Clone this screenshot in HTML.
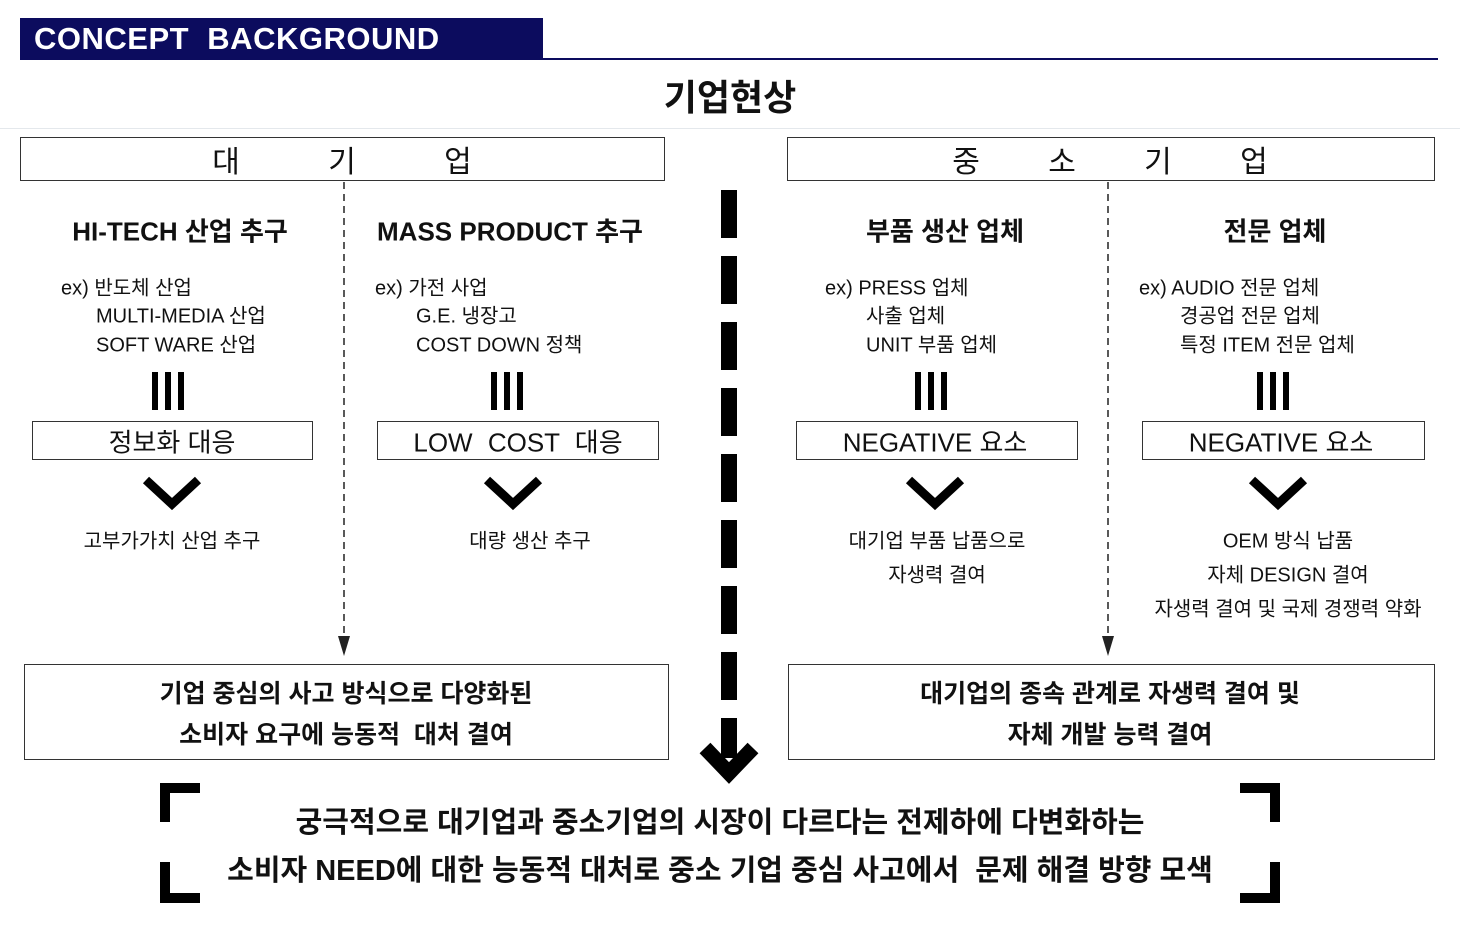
<!DOCTYPE html>
<html><head><meta charset="utf-8"><style>
body{margin:0;width:1460px;height:947px;background:#fff;position:relative;overflow:hidden;font-family:"Liberation Sans","Noto Sans CJK KR",sans-serif;color:#111}
.t{position:absolute;white-space:nowrap;transform:translate(-50%,-50%)}
.l{position:absolute;white-space:nowrap;transform:translateY(-50%);font-size:20px}
.box{position:absolute;border:1.5px solid #333;box-sizing:border-box}
.h{font-size:26px;font-weight:bold}
</style></head><body>
<div style="position:absolute;left:20px;top:18px;width:523px;height:42px;background:#0c0c5e"></div>
<div style="position:absolute;left:34px;top:39px;transform:translateY(-50%);color:#fff;font-weight:bold;font-size:31px;letter-spacing:0.5px">CONCEPT&nbsp; BACKGROUND</div>
<div style="position:absolute;left:543px;top:58px;width:895px;height:2px;background:#0c0c5e"></div>
<div class="t" style="left:730px;top:95px;font-size:36px;font-weight:bold">기업현상</div>
<div style="position:absolute;left:0;top:128px;width:1460px;height:1px;background:#e4e8ec"></div>
<div class="box" style="left:20px;top:137px;width:645px;height:44px"></div>
<div class="box" style="left:787px;top:137px;width:648px;height:44px"></div>
<div class="t" style="left:342px;top:159px;font-size:30px;word-spacing:80px">대 기 업</div>
<div class="t" style="left:1110px;top:159px;font-size:30px;word-spacing:60px">중 소 기 업</div>
<svg width="1460" height="947" style="position:absolute;left:0;top:0">
<g stroke="#222" stroke-width="1.5" stroke-dasharray="7,5">
<line x1="344" y1="182" x2="344" y2="640"/><line x1="1108" y1="182" x2="1108" y2="640"/></g>
<polygon points="338,636 350,636 344,656" fill="#222"/><polygon points="1102,636 1114,636 1108,656" fill="#222"/>
<g fill="#000">
<rect x="721" y="190" width="16" height="48"/><rect x="721" y="256" width="16" height="48"/><rect x="721" y="322" width="16" height="48"/><rect x="721" y="388" width="16" height="48"/><rect x="721" y="454" width="16" height="48"/><rect x="721" y="520" width="16" height="48"/><rect x="721" y="586" width="16" height="48"/><rect x="721" y="652" width="16" height="48"/>
<rect x="721" y="718" width="16" height="40"/>
</g>
<polyline points="705,748 729,773 753,748" fill="none" stroke="#000" stroke-width="15"/>
<g fill="#000">
<rect x="152" y="372" width="6" height="38"/><rect x="165" y="372" width="6" height="38"/><rect x="178" y="372" width="6" height="38"/>
<rect x="491" y="372" width="6" height="38"/><rect x="504" y="372" width="6" height="38"/><rect x="517" y="372" width="6" height="38"/>
<rect x="915" y="372" width="6" height="38"/><rect x="928" y="372" width="6" height="38"/><rect x="941" y="372" width="6" height="38"/>
<rect x="1257" y="372" width="6" height="38"/><rect x="1270" y="372" width="6" height="38"/><rect x="1283" y="372" width="6" height="38"/>
</g>
<g fill="none" stroke="#000" stroke-width="9">
<polyline points="146,480 172,504 198,480"/><polyline points="487,480 513,504 539,480"/><polyline points="909,480 935,504 961,480"/><polyline points="1252,480 1278,504 1304,480"/>
</g>
<g fill="none" stroke="#000" stroke-width="10">
<polyline points="165,822 165,788 200,788"/><polyline points="165,862 165,898 200,898"/>
<polyline points="1240,788 1275,788 1275,822"/><polyline points="1240,898 1275,898 1275,862"/>
</g>
</svg>
<div class="t h" style="left:180px;top:230px">HI-TECH 산업 추구</div>
<div class="t h" style="left:510px;top:230px">MASS PRODUCT 추구</div>
<div class="t h" style="left:945px;top:230px">부품 생산 업체</div>
<div class="t h" style="left:1275px;top:230px">전문 업체</div>
<div class="l" style="left:61px;top:286px">ex) 반도체 산업</div>
<div class="l" style="left:96px;top:314px">MULTI-MEDIA 산업</div>
<div class="l" style="left:96px;top:343px">SOFT WARE 산업</div>
<div class="l" style="left:375px;top:286px">ex) 가전 사업</div>
<div class="l" style="left:416px;top:314px">G.E. 냉장고</div>
<div class="l" style="left:416px;top:343px">COST DOWN 정책</div>
<div class="l" style="left:825px;top:286px">ex) PRESS 업체</div>
<div class="l" style="left:866px;top:314px">사출 업체</div>
<div class="l" style="left:866px;top:343px">UNIT 부품 업체</div>
<div class="l" style="left:1139px;top:286px">ex) AUDIO 전문 업체</div>
<div class="l" style="left:1180px;top:314px">경공업 전문 업체</div>
<div class="l" style="left:1180px;top:343px">특정 ITEM 전문 업체</div>
<div class="box" style="left:32px;top:421px;width:281px;height:39px"></div>
<div class="box" style="left:377px;top:421px;width:282px;height:39px"></div>
<div class="box" style="left:796px;top:421px;width:282px;height:39px"></div>
<div class="box" style="left:1142px;top:421px;width:283px;height:39px"></div>
<div class="t" style="left:172px;top:441px;font-size:26px">정보화 대응</div>
<div class="t" style="left:518px;top:441px;font-size:26px;word-spacing:8px">LOW COST 대응</div>
<div class="t" style="left:935px;top:441px;font-size:26px">NEGATIVE 요소</div>
<div class="t" style="left:1281px;top:441px;font-size:26px">NEGATIVE 요소</div>
<div class="t" style="left:172px;top:539px;font-size:20px">고부가가치 산업 추구</div>
<div class="t" style="left:530px;top:539px;font-size:20px">대량 생산 추구</div>
<div class="t" style="left:937px;top:539px;font-size:20px">대기업 부품 납품으로</div>
<div class="t" style="left:937px;top:573px;font-size:20px">자생력 결여</div>
<div class="t" style="left:1288px;top:539px;font-size:20px">OEM 방식 납품</div>
<div class="t" style="left:1288px;top:573px;font-size:20px">자체 DESIGN 결여</div>
<div class="t" style="left:1288px;top:607px;font-size:20px">자생력 결여 및 국제 경쟁력 약화</div>
<div class="box" style="left:24px;top:664px;width:645px;height:96px"></div>
<div class="box" style="left:788px;top:664px;width:647px;height:96px"></div>
<div class="t" style="left:346px;top:692px;font-size:25px;font-weight:bold">기업 중심의 사고 방식으로 다양화된</div>
<div class="t" style="left:346px;top:733px;font-size:25px;font-weight:bold">소비자 요구에 능동적&nbsp; 대처 결여</div>
<div class="t" style="left:1110px;top:692px;font-size:25px;font-weight:bold">대기업의 종속 관계로 자생력 결여 및</div>
<div class="t" style="left:1110px;top:733px;font-size:25px;font-weight:bold">자체 개발 능력 결여</div>
<div class="t" style="left:720px;top:820px;font-size:29px;font-weight:bold">궁극적으로 대기업과 중소기업의 시장이 다르다는 전제하에 다변화하는</div>
<div class="t" style="left:720px;top:868px;font-size:29px;font-weight:bold">소비자 NEED에 대한 능동적 대처로 중소 기업 중심 사고에서&nbsp; 문제 해결 방향 모색</div>
</body></html>
